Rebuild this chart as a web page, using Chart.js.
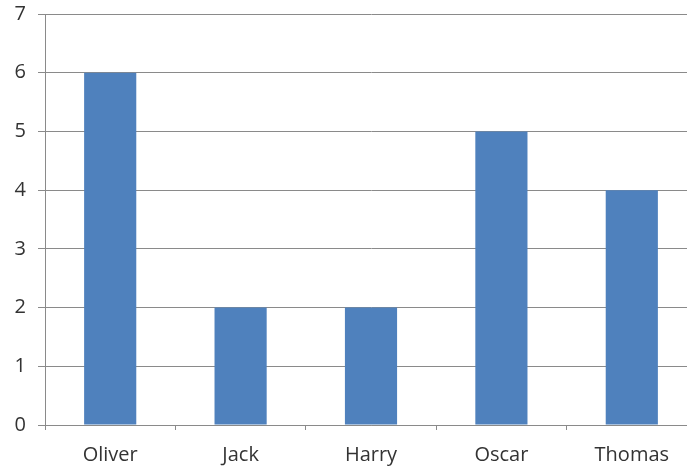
<!DOCTYPE html>
<html>
<head>
<meta charset="utf-8">
<script src="https://cdn.jsdelivr.net/npm/chart.js@4/dist/chart.umd.min.js"></script>
<style>
html,body{margin:0;padding:0;background:#fff;overflow:hidden;}
#wrap{width:687px;height:469px;position:relative;overflow:hidden;}
#c{position:absolute;left:0;top:0;}
</style>
</head>
<body>
<div id="wrap"><canvas id="c" width="697" height="469" style="width:697px;height:469px"></canvas></div>
<script>
const categories = ["Oliver", "Jack", "Harry", "Oscar", "Thomas"];
const values = [6, 2, 2, 5, 4];
const yTicks = [0, 1, 2, 3, 4, 5, 6, 7];

const gray = "#8a8a8a";
const font = {family: "'Open Sans', 'DejaVu Sans', sans-serif", size: 20};

new Chart(document.getElementById("c"), {
  type: "bar",
  data: {
    labels: categories,
    datasets: [{
      data: values,
      backgroundColor: "#4F81BD",
      borderWidth: 0,
      categoryPercentage: 0.8,
      barPercentage: 0.5
    }]
  },
  options: {
    responsive: false,
    animation: false,
    devicePixelRatio: 1,
    layout: {padding: {top: 14, right: 0, left: 1, bottom: 0}},
    plugins: {legend: {display: false}, tooltip: {enabled: false}},
    scales: {
      x: {
        offset: true,
        grid: {offset: true, drawOnChartArea: false, drawTicks: true, tickLength: 5, color: gray},
        border: {color: gray, width: 1},
        ticks: {color: "#333", font: font, padding: 13, maxRotation: 0},
        afterFit: (s) => { s.height = 44; s.paddingLeft = 0; s.paddingRight = 0; }
      },
      y: {
        min: yTicks[0],
        max: yTicks[yTicks.length - 1],
        afterBuildTicks: (s) => { s.ticks = yTicks.map(v => ({value: v})); },
        grid: {color: gray, tickLength: 7, drawTicks: true},
        border: {color: gray, width: 1},
        ticks: {color: "#333", font: font, padding: 12},
        afterFit: (s) => { s.width = 44; s.paddingTop = 0; s.paddingBottom = 0; }
      }
    }
  }
});
</script>
</body>
</html>
